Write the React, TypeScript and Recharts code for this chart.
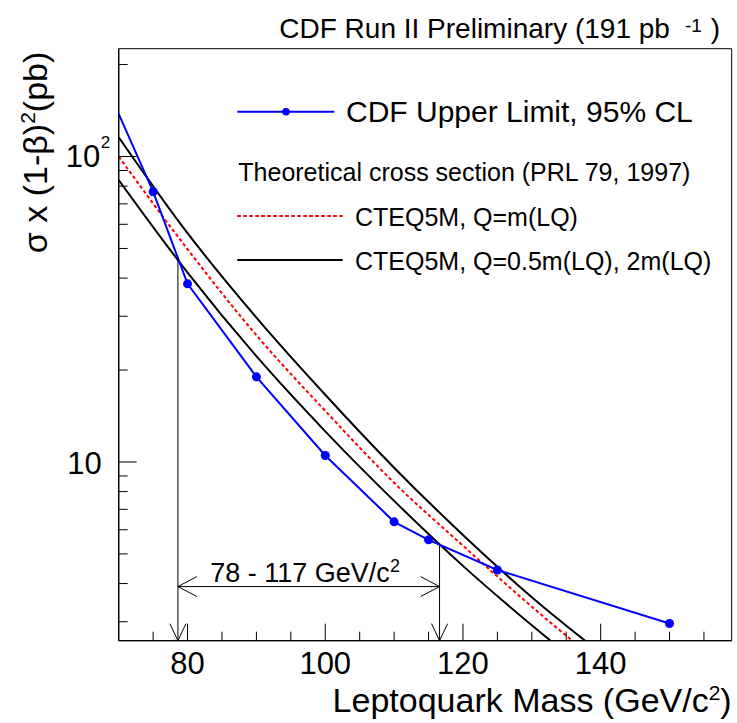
import React from 'react';
import {
  LineChart,
  Line,
  XAxis,
  YAxis,
  ReferenceLine,
  ReferenceDot,
  ReferenceArea,
  Legend,
} from 'recharts';

const FONT = '"Liberation Sans", Arial, Helvetica, sans-serif';

// CDF 95% CL upper limit on sigma x (1-beta)^2 (pb)
const limitMass = [70, 75, 80, 90, 100, 110, 115, 125, 150];
const limitXsec = [138, 76.7, 38.3, 19.0, 10.5, 6.37, 5.56, 4.43, 2.96];

// Theoretical cross section (PRL 79, 1997), CTEQ5M
const theoryMass = [70, 80, 90, 100, 110, 120, 130, 140];
const theoryCentral = [100, 49.7, 26.0, 14.7, 8.55, 5.32, 3.36, 2.18]; // Q = m(LQ)
const theoryHalfQ = [115.6, 56.1, 29.7, 16.6, 9.58, 5.77, 3.61, 2.37]; // Q = 0.5 m(LQ)
const theoryTwoQ = [83.8, 41.7, 22.2, 12.6, 7.46, 4.57, 2.92, 1.92]; // Q = 2 m(LQ)

// axes
const xDomain = [70, 159.03];
const yDomain = [2.6, 225.4];
const xTicks = [75, 80, 85, 90, 95, 100, 105, 110, 115, 120, 125, 130, 135, 140, 145, 150, 155];
const xMajor = [80, 100, 120, 140];
const yTicks = [3, 4, 5, 6, 7, 8, 9, 10, 20, 30, 40, 50, 60, 70, 80, 90, 100, 200];
const yMajor = [10, 100];

// excluded mass range annotation
const excludedMass = [78.6, 116.6];
const excludedTop = [46.6, 5.42];
const rangeArrowLevel = 3.91;
const rangeLabelMass = 83.3;
const rangeLabel = '78 - 117 GeV/c';

const limitData = limitMass.map((m, i) => ({ mass: m, xsec: limitXsec[i] }));
const theoryData = theoryMass.map((m, i) => ({
  mass: m,
  central: theoryCentral[i],
  halfQ: theoryHalfQ[i],
  twoQ: theoryTwoQ[i],
}));

const XTick = (props: any) => {
  const { x, y, payload } = props;
  const v = payload.value;
  const major = xMajor.includes(v);
  return (
    <g>
      <line x1={x} x2={x} y1={y} y2={y - (major ? 17 : 9)} stroke="#000" strokeWidth={1} />
      {major && (
        <text x={x} y={y + 33.5} textAnchor="middle" fontSize={31} fontFamily={FONT} fill="#000">
          {v}
        </text>
      )}
    </g>
  );
};

const YTick = (props: any) => {
  const { x, y, payload } = props;
  const v = payload.value;
  const major = yMajor.includes(v);
  return (
    <g>
      <line x1={x} x2={x + (major ? 18 : 9)} y1={y} y2={y} stroke="#000" strokeWidth={1} />
      {v === 10 && (
        <text x={x - 17} y={y + 12.5} textAnchor="end" fontSize={31} fontFamily={FONT} fill="#000">
          10
        </text>
      )}
      {v === 100 && (
        <g>
          <text x={x - 18.5} y={y + 10.2} textAnchor="end" fontSize={31} fontFamily={FONT} fill="#000">
            10
          </text>
          <text x={x - 18} y={y - 8.2} textAnchor="start" fontSize={17} fontFamily={FONT} fill="#000">
            2
          </text>
        </g>
      )}
    </g>
  );
};

const BlueDot = (p: any) => {
  if (p.payload.mass < 75) return <g key={`d${p.index}`} />;
  return <circle key={`d${p.index}`} cx={p.cx} cy={p.cy} r={4.5} fill="#0000ff" stroke="none" />;
};

const DownArrow = (p: any) => (
  <path
    d={`M${p.cx - 8},${p.cy - 17} L${p.cx},${p.cy} L${p.cx + 8},${p.cy - 17}`}
    fill="none"
    stroke="#000"
    strokeWidth={1}
  />
);
const LeftArrow = (p: any) => (
  <path
    d={`M${p.cx + 19},${p.cy - 10} L${p.cx},${p.cy} L${p.cx + 19},${p.cy + 10}`}
    fill="none"
    stroke="#000"
    strokeWidth={1}
  />
);
const RightArrow = (p: any) => (
  <path
    d={`M${p.cx - 19},${p.cy - 10} L${p.cx},${p.cy} L${p.cx - 19},${p.cy + 10}`}
    fill="none"
    stroke="#000"
    strokeWidth={1}
  />
);
const RangeLabel = (p: any) => (
  <text x={p.cx} y={p.cy - 5} textAnchor="start" fontSize={27} fontFamily={FONT} fill="#000">
    {rangeLabel}
    <tspan dx={0} dy={-10} fontSize={18}>
      2
    </tspan>
  </text>
);

const LegendBox = () => (
  <svg width={737} height={290} style={{ display: 'block', overflow: 'visible' }}>
    <line x1={237.3} x2={334.3} y1={111.7} y2={111.7} stroke="#0000ff" strokeWidth={2} />
    <circle cx={286} cy={111.7} r={3.8} fill="#0000ff" />
    <text x={346} y={122.4} fontSize={30} fontFamily={FONT} fill="#000">
      CDF Upper Limit, 95% CL
    </text>
    <text x={238.3} y={180.7} fontSize={25} fontFamily={FONT} fill="#000">
      Theoretical cross section (PRL 79, 1997)
    </text>
    <line x1={237.3} x2={342.7} y1={216} y2={216} stroke="#ff0000" strokeWidth={2} strokeDasharray="3.5 2.5" />
    <text x={355} y={225.5} fontSize={25} fontFamily={FONT} fill="#000">
      CTEQ5M, Q=m(LQ)
    </text>
    <line x1={237.3} x2={342.7} y1={260} y2={260} stroke="#000" strokeWidth={2} />
    <text x={355} y={269.5} fontSize={25} fontFamily={FONT} fill="#000">
      CTEQ5M, Q=0.5m(LQ), 2m(LQ)
    </text>
  </svg>
);

export default function App() {
  return (
    <div style={{ position: 'absolute', left: 0, top: 0, width: 737, height: 723, background: '#fff' }}>
      <svg
        width={737}
        height={60}
        style={{ position: 'absolute', left: 0, top: 0, pointerEvents: 'none' }}
      >
        <text x={279.3} y={37.7} fontSize={28} fontFamily={FONT} fill="#000">
          CDF Run II Preliminary (191 pb
        </text>
        <text x={685} y={31.7} fontSize={19} fontFamily={FONT} fill="#000">
          -1
        </text>
        <text x={710.7} y={37.7} fontSize={28} fontFamily={FONT} fill="#000">
          )
        </text>
      </svg>
      <LineChart
        width={737}
        height={723}
        margin={{ top: 48.7, right: 5.3, bottom: 81.3, left: 117.7 }}
      >
        <XAxis
          type="number"
          dataKey="mass"
          domain={xDomain}
          allowDataOverflow
          ticks={xTicks}
          interval={0}
          tick={XTick}
          tickLine={false}
          tickSize={0}
          tickMargin={0}
          height={1}
          axisLine={{ stroke: '#000', strokeWidth: 1.3 }}
          label={{
            content: () => (
              <text x={731.7} y={712} textAnchor="end" fontSize={34} fontFamily={FONT} fill="#000">
                Leptoquark Mass (GeV/c
                <tspan dy={-12.5} fontSize={21}>
                  2
                </tspan>
                <tspan dy={12.5} fontSize={34}>
                  )
                </tspan>
              </text>
            ),
          }}
        />
        <YAxis
          type="number"
          scale="log"
          domain={yDomain}
          allowDataOverflow
          ticks={yTicks}
          interval={0}
          tick={YTick}
          tickLine={false}
          tickSize={0}
          tickMargin={0}
          width={1}
          axisLine={{ stroke: '#000', strokeWidth: 1.3 }}
          label={{
            content: () => (
              <text
                transform="rotate(-90)"
                x={-51.7}
                y={46.7}
                textAnchor="end"
                fontSize={34}
                fontFamily={FONT}
                fill="#000"
              >
                σ x (1-β)
                <tspan dy={-12} fontSize={21}>
                  2
                </tspan>
                <tspan dy={12} fontSize={34}>
                  (pb)
                </tspan>
              </text>
            ),
          }}
        />
        <ReferenceArea
          x1={xDomain[0]}
          x2={xDomain[1]}
          y1={yDomain[0]}
          y2={yDomain[1]}
          fill="none"
          fillOpacity={0}
          stroke="#000"
          strokeWidth={1}
          ifOverflow="visible"
        />
        <Line
          data={theoryData}
          dataKey="halfQ"
          type="monotone"
          stroke="#000"
          strokeWidth={2}
          dot={false}
          isAnimationActive={false}
          name="CTEQ5M, Q=0.5m(LQ)"
        />
        <Line
          data={theoryData}
          dataKey="twoQ"
          type="monotone"
          stroke="#000"
          strokeWidth={2}
          dot={false}
          isAnimationActive={false}
          name="CTEQ5M, Q=2m(LQ)"
        />
        <Line
          data={theoryData}
          dataKey="central"
          type="monotone"
          stroke="#ff0000"
          strokeWidth={2}
          strokeDasharray="3.5 2.5"
          dot={false}
          isAnimationActive={false}
          name="CTEQ5M, Q=m(LQ)"
        />
        <Line
          data={limitData}
          dataKey="xsec"
          type="linear"
          stroke="#0000ff"
          strokeWidth={2}
          dot={BlueDot}
          isAnimationActive={false}
          name="CDF Upper Limit, 95% CL"
        />
        <ReferenceLine
          segment={[
            { x: excludedMass[0], y: excludedTop[0] },
            { x: excludedMass[0], y: yDomain[0] },
          ]}
          stroke="#000"
          strokeWidth={1}
          ifOverflow="visible"
        />
        <ReferenceLine
          segment={[
            { x: excludedMass[1], y: excludedTop[1] },
            { x: excludedMass[1], y: yDomain[0] },
          ]}
          stroke="#000"
          strokeWidth={1}
          ifOverflow="visible"
        />
        <ReferenceLine
          segment={[
            { x: excludedMass[0], y: rangeArrowLevel },
            { x: excludedMass[1], y: rangeArrowLevel },
          ]}
          stroke="#000"
          strokeWidth={1}
          ifOverflow="visible"
        />
        <ReferenceDot x={excludedMass[0]} y={yDomain[0]} ifOverflow="visible" shape={DownArrow} />
        <ReferenceDot x={excludedMass[1]} y={yDomain[0]} ifOverflow="visible" shape={DownArrow} />
        <ReferenceDot x={excludedMass[0]} y={rangeArrowLevel} ifOverflow="visible" shape={LeftArrow} />
        <ReferenceDot x={excludedMass[1]} y={rangeArrowLevel} ifOverflow="visible" shape={RightArrow} />
        <ReferenceDot x={rangeLabelMass} y={rangeArrowLevel} ifOverflow="visible" shape={RangeLabel} />
        <Legend
          layout="vertical"
          align="center"
          verticalAlign="middle"
          content={LegendBox}
          wrapperStyle={{ position: 'absolute', left: 0, top: 0, width: 737, height: 290, pointerEvents: 'none' }}
        />
      </LineChart>
    </div>
  );
}
